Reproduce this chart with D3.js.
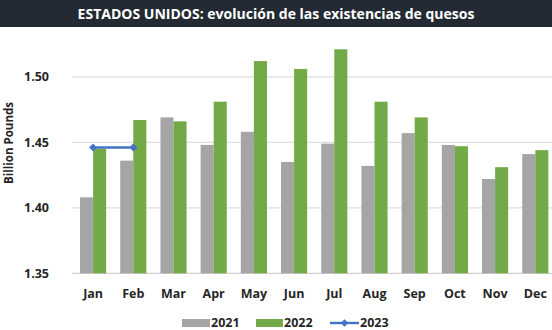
<!DOCTYPE html>
<html><head><meta charset="utf-8">
<script src="https://cdn.jsdelivr.net/npm/d3@7"></script>
<style>body{margin:0;background:#fff}svg{display:block}</style>
</head><body>
<script>
const months = ["Jan","Feb","Mar","Apr","May","Jun","Jul","Aug","Sep","Oct","Nov","Dec"];
const v2021 = [1.408,1.436,1.469,1.448,1.458,1.435,1.449,1.432,1.457,1.448,1.422,1.441];
const v2022 = [1.445,1.467,1.466,1.481,1.512,1.506,1.521,1.481,1.469,1.447,1.431,1.444];
const v2023 = [1.446,1.446];
const yTicks = [1.35,1.40,1.45,1.50];
const seriesNames = ["2021","2022","2023"];
const title = "ESTADOS UNIDOS: evolución de las existencias de quesos";
const yTitle = "Billion Pounds";

const W=552,H=330;
const svg=d3.select("body").append("svg").attr("width",W).attr("height",H);
const font="'Open Sans', 'Liberation Sans', sans-serif";

// title bar
svg.append("rect").attr("x",0).attr("y",0).attr("width",W).attr("height",27).attr("fill","#232a33");
const t=svg.append("text").attr("x",W/2).attr("y",19).attr("text-anchor","middle")
  .attr("fill","#fff").attr("font-family",font).attr("font-weight",700).attr("font-size",14).text(title);
const tw=t.node().getComputedTextLength();
t.attr("font-size",14*397/tw);

const y=d3.scaleLinear().domain([1.35,1.55]).range([273.3,11.3]);
const x=d3.scaleBand().domain(months).range([73,555.4]).paddingInner(0.35).paddingOuter(0.175);
const xs=d3.scaleBand().domain(["2021","2022"]).range([0,x.bandwidth()]);

// grid
svg.append("g").selectAll("line").data(yTicks).join("line")
  .attr("x1",72).attr("x2",W).attr("y1",d=>y(d)).attr("y2",d=>y(d))
  .attr("stroke",d=>d===1.35?"#d0d0d0":"#dedede").attr("stroke-width",1.3);

// y labels
svg.append("g").selectAll("text").data(yTicks).join("text")
  .attr("x",49).attr("y",d=>y(d)+4.5).attr("text-anchor","end")
  .attr("font-family",font).attr("font-weight",700).attr("font-size",12.5).attr("fill","#262626")
  .text(d=>d3.format(".2f")(d));

svg.append("text").attr("transform","translate(13,143) rotate(-90)").attr("text-anchor","middle")
  .attr("font-family",font).attr("font-weight",700).attr("font-size",11.5).attr("fill","#262626").text(yTitle);

// bars
const g=svg.append("g");
g.selectAll(".b21").data(months).join("rect")
  .attr("x",(d)=>x(d)+xs("2021")).attr("width",xs.bandwidth())
  .attr("y",(d,i)=>y(v2021[i])).attr("height",(d,i)=>y(1.35)-y(v2021[i])).attr("fill","#a5a5a5");
g.selectAll(".b22").data(months).join("rect")
  .attr("x",(d)=>x(d)+xs("2022")).attr("width",xs.bandwidth())
  .attr("y",(d,i)=>y(v2022[i])).attr("height",(d,i)=>y(1.35)-y(v2022[i])).attr("fill","#72aa48");

// line 2023
const lineData=v2023.map((v,i)=>[x(months[i])+x.bandwidth()/2,y(v)]);
svg.append("path").attr("d",d3.line()(lineData)).attr("fill","none").attr("stroke","#4472c4").attr("stroke-width",2.6);
svg.append("g").selectAll("path").data(lineData).join("path")
  .attr("transform",d=>`translate(${d[0]},${d[1]})`)
  .attr("d",d3.symbol(d3.symbolDiamond2,40)).attr("fill","#4472c4");

// x labels
svg.append("g").selectAll("text").data(months).join("text")
  .attr("x",d=>x(d)+x.bandwidth()/2).attr("y",298).attr("text-anchor","middle")
  .attr("font-family",font).attr("font-weight",700).attr("font-size",12.5).attr("fill","#262626").text(d=>d);

// legend
const lg=svg.append("g").attr("font-family",font).attr("font-weight",700).attr("font-size",12.5).attr("fill","#262626");
lg.append("rect").attr("x",182).attr("y",319).attr("width",28).attr("height",8).attr("fill","#a5a5a5");
lg.append("text").attr("x",211).attr("y",327).text(seriesNames[0]);
lg.append("rect").attr("x",256).attr("y",319).attr("width",27).attr("height",8).attr("fill","#72aa48");
lg.append("text").attr("x",284).attr("y",327).text(seriesNames[1]);
lg.append("line").attr("x1",330).attr("x2",359).attr("y1",323).attr("y2",323).attr("stroke","#4472c4").attr("stroke-width",2.4);
lg.append("path").attr("transform","translate(344.5,323)").attr("d",d3.symbol(d3.symbolDiamond2,36)).attr("fill","#4472c4");
lg.append("text").attr("x",360).attr("y",327).text(seriesNames[2]);
</script>
</body></html>
